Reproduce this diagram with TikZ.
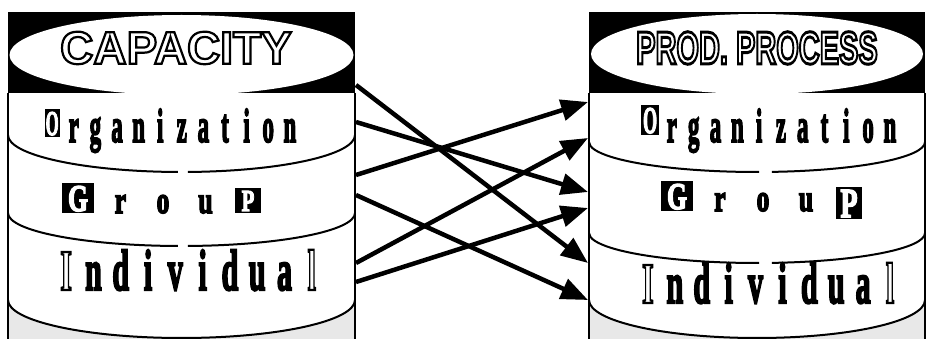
\documentclass[tikz,border=0pt]{standalone}
\usepackage{fontspec}
\setmainfont{Liberation Serif}
\newfontfamily\headfont{Liberation Sans}
\newfontfamily\wordfont{Liberation Serif Bold}[FakeBold=4]
\usepackage{graphicx}
\usetikzlibrary{arrows.meta}

\makeatletter
% set each letter of a word in a box of fixed pitch, squeezed horizontally
\newcommand\spreadword[3]{%
  \def\sw@pitch{#1}\def\sw@sc{#2}%
  \@tfor\sw@c:=#3\do{\makebox[\sw@pitch]{\scalebox{\sw@sc}[1]{\sw@c}}}}
\makeatother

% hollow lettering: white fill, black stroke (PDF text render mode 2)
\newcommand\hollow[2][1.6]{{\color{white}%
  \special{pdf:literal direct 0 G #1 w 2 Tr}#2\special{pdf:literal direct 0 Tr 0.4 w}}}
% a capital shown as a white letter cut out of a black block
\newcommand\blockcap[4]{% width, height, raise, letter
  \raisebox{#3}{\rlap{\rule{#1}{#2}}\makebox[#1]{\raisebox{2pt}{\resizebox{!}{\dimexpr#2-5pt\relax}{\color{white}#4}}}}}

\begin{document}
\begin{tikzpicture}[x=1pt,y=-1pt,
  edge/.style={line width=2pt},
  divider/.style={line width=2pt},
  stip/.style={fill=black!9},
  band/.style={fill=black},
  lid/.style={fill=white},
  word/.style={anchor=base, inner sep=0pt},
  orgword/.style={word, font=\wordfont\fontsize{48}{48}\selectfont},
  grpword/.style={word, font=\wordfont\fontsize{38}{38}\selectfont},
  indword/.style={word, font=\wordfont\fontsize{58}{58}\selectfont},
  title/.style={inner sep=0pt, font=\headfont\bfseries\fontsize{46}{46}\selectfont},
  arr/.style={line width=4.5pt, -{Triangle[length=27pt,width=21pt]}}]

\useasboundingbox (0,0) rectangle (927,339);
\clip (0,0) rectangle (927,339);

% ---------- CAPACITY cylinder ----------
\fill[band] (8,12) rectangle (355,93);
\fill[lid] (181.5,55) ellipse [x radius=172, y radius=40];
\fill[stip] (8,300) arc [start angle=180, end angle=0, x radius=173.5, y radius=38]
  -- (355,345) -- (8,345) -- cycle;
\draw[edge] (8,93) -- (8,345);
\draw[edge] (355,93) -- (355,345);
\draw[divider] (8,135) arc [start angle=180, end angle=91.2, x radius=173.5, y radius=37];
\draw[divider] (355,135) arc [start angle=0, end angle=87.9, x radius=173.5, y radius=37];
\draw[divider] (8,213) arc [start angle=180, end angle=91.2, x radius=173.5, y radius=33];
\draw[divider] (355,213) arc [start angle=0, end angle=87.9, x radius=173.5, y radius=33];
\draw[divider] (8,300) arc [start angle=180, end angle=0, x radius=173.5, y radius=38];

\node[title] (capTitle) at (176,48) {\hollow[2.2]{CAPACITY}};
\node[orgword] (capOrg) at (171,142)
  {\spreadword{21.6pt}{0.48}{{\blockcap{31pt}{28pt}{5pt}{O}}rganization}};
\node[grpword] (capGrp) at (163,213)
  {\spreadword{42.5pt}{0.68}{{\blockcap{48pt}{30pt}{0pt}{G}}rou{\blockcap{39pt}{25pt}{0pt}{P}}}};
\node[indword] (capInd) at (189,290)
  {\spreadword{27.3pt}{0.52}{{\hollow[4.5]{I}}ndividua{\hollow[4.5]{l}}}};

% ---------- PROD. PROCESS cylinder ----------
\fill[band] (589,12) rectangle (925,93);
\fill[lid] (757,54) ellipse [x radius=166, y radius=40];
\fill[stip] (589,300) arc [start angle=180, end angle=0, x radius=168, y radius=38]
  -- (925,345) -- (589,345) -- cycle;
\draw[edge] (589,93) -- (589,345);
\draw[edge] (925,93) -- (925,345);
\draw[divider] (589,142) arc [start angle=180, end angle=89.3, x radius=168, y radius=30];
\draw[divider] (925,142) arc [start angle=0, end angle=84.9, x radius=168, y radius=30];
\draw[divider] (589,233) arc [start angle=180, end angle=89.3, x radius=168, y radius=30];
\draw[divider] (925,233) arc [start angle=0, end angle=84.9, x radius=168, y radius=30];
\draw[divider] (589,300) arc [start angle=180, end angle=0, x radius=168, y radius=38];

\node[title] (prodTitle) at (757,48) {\scalebox{0.63}[1]{\hollow[3]{PROD. PROCESS}}};
\node[orgword] (prodOrg) at (770,142)
  {\spreadword{21.8pt}{0.48}{{\blockcap{36pt}{30pt}{7pt}{O}}rganization}};
\node[grpword] (prodGrp) at (763,211)
  {\spreadword{43pt}{0.68}{{\blockcap{48pt}{30pt}{0pt}{G}}rou{\blockcap{39pt}{32pt}{-8pt}{P}}}};
\node[indword] (prodInd) at (769,303)
  {\spreadword{26.9pt}{0.52}{{\hollow[4.5]{I}}ndividua{\hollow[4.5]{l}}}};

% ---------- arrow ends ----------
\coordinate (capA) at (356,85);
\coordinate (capB) at (356,122);
\coordinate (capC) at (356,175);
\coordinate (capD) at (356,195);
\coordinate (capE) at (356,263);
\coordinate (capF) at (356,282);
\coordinate (prodA) at (588,102);
\coordinate (prodB) at (588,138);
\coordinate (prodC) at (588,192);
\coordinate (prodD) at (588,208);
\coordinate (prodE) at (588,263);
\coordinate (prodF) at (588,300);

\draw[arr] (capA) -- (prodE);
\draw[arr] (capB) -- (prodC);
\draw[arr] (capC) -- (prodA);
\draw[arr] (capD) -- (prodF);
\draw[arr] (capE) -- (prodB);
\draw[arr] (capF) -- (prodD);
\end{tikzpicture}
\end{document}
